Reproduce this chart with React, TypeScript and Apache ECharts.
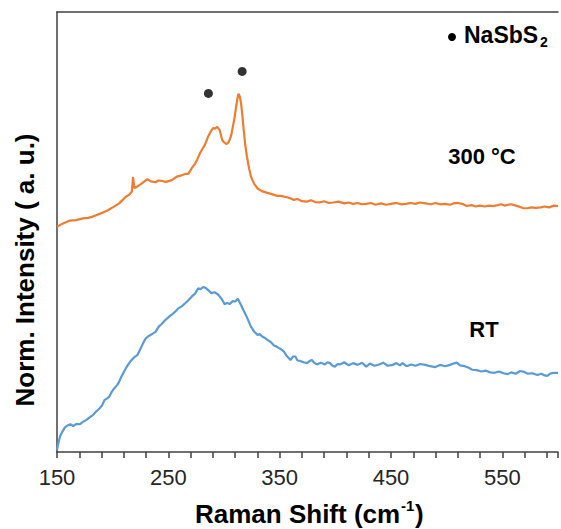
import React, { useEffect, useRef } from "react";
import * as echarts from "echarts";

// Raman shift (cm-1) and normalized intensity (a.u.)
const shift300: number[] = [
  150, 155, 161.5, 167, 173.3, 178, 182.2, 187, 191.1, 196, 200, 205.9, 211.8, 215, 217.2, 218.3, 219.5, 221.3,
  226.6, 231, 234.5, 238.5, 241, 244.3, 248, 253.2, 257.6, 261, 265.1, 268, 271, 274, 276, 278.4, 280.5, 282.8,
  285.8, 288, 290.2, 292, 294, 296.1, 298.4, 300, 302, 303.5, 305, 306.5, 307.9, 309.5, 310.9, 312, 313, 314.2,
  315.3, 316.5, 317.7, 319, 320.6, 322.5, 324.2, 327, 330.1, 334, 339, 343, 347.9, 350.8, 356.7, 360, 362.7,
  366, 370, 374.5, 378, 382, 386.3, 390, 394, 398.2, 403, 408, 412, 415.9, 420, 424, 427.7, 432, 436, 441,
  445.5, 450, 455, 459, 463.2, 468, 472, 476, 481, 486, 490, 494, 498.7, 503, 506, 510.5, 514, 518, 522.4,
  526, 530, 534.2, 538, 542, 546, 549, 552, 555, 557.9, 562, 566, 569, 572.6, 576, 580, 584.5, 588, 592,
  596.3, 600,
];
const int300: number[] = [
  51.2, 51.9, 52.6, 52.7, 53.1, 53.2, 53.5, 54.0, 54.4, 55.0, 55.6, 56.5, 58.0, 58.5, 59.2, 62.5, 60.0, 60.2,
  61.1, 62.0, 61.5, 61.3, 61.7, 61.6, 61.4, 61.8, 62.6, 62.8, 63.2, 63.2, 64.5, 65.5, 66.5, 67.9, 68.8, 69.8,
  71.7, 72.8, 73.6, 73.5, 73.9, 73.2, 70.9, 70.4, 70.0, 70.2, 70.9, 72.0, 73.9, 76.0, 78.5, 80.2, 81.4, 80.8,
  79.3, 76.5, 73.2, 70.0, 67.1, 64.5, 62.6, 61.0, 59.9, 59.3, 58.9, 58.6, 58.2, 58.2, 57.9, 57.6, 57.3,
  57.5, 57.0, 56.9, 57.2, 56.8, 56.75, 57.0, 56.6, 56.7, 56.9, 56.5, 56.7, 56.4, 56.6, 56.3, 56.4, 56.6, 56.2, 56.5,
  56.2, 56.4, 56.6, 56.3, 56.4, 56.6, 56.4, 56.7, 56.5, 56.3, 56.6, 56.3, 56.4, 56.2, 56.5, 56.6, 56.4, 55.9, 56.1,
  55.8, 56.0, 55.8, 56.0, 55.9, 56.1, 56.3, 56.0, 56.2, 56.3, 56.0, 55.7, 55.4, 55.4, 55.6, 55.5, 55.6, 55.8, 55.6,
  56.0, 55.9,
];

const shiftRT: number[] = [
  150, 151.2, 152.7, 155, 157.1, 160, 162, 164.5, 167.5, 170.4, 173, 176.4, 179, 182.2, 185.2, 188.2, 190.5,
  192.6, 195, 197, 199, 201.5, 204, 205.9, 208, 210.3, 212.5, 214.8, 217, 219.2, 222.1, 225.2, 227.5, 229.6,
  232, 234, 236, 238.5, 241.4, 244, 247.3, 250, 253, 256.2, 259.1, 262, 265.1, 268, 270.9, 274, 276.9, 279,
  281.3, 283.5, 285.8, 288.7, 291.5, 294.6, 297.6, 300.6, 303, 305, 307.9, 310, 312.4, 315.3, 317.5, 319.7,
  322, 324.2, 327, 330.1, 332, 334.6, 337, 339, 342, 344.9, 347, 349.4, 351.5, 353.8, 356.5, 359.7, 362,
  364.1, 366, 368.5, 371.5, 374.5, 376.5, 378.9, 381, 383.4, 387, 390.7, 393, 395.2, 397.5, 399.6, 402, 404,
  408, 412, 415.9, 420, 424, 427.7, 431, 435, 439.5, 443, 447, 451.4, 455, 458, 460.3, 464, 468, 472.1, 476,
  481, 485, 489.8, 494, 498.7, 503, 506, 509.1, 512, 516, 519.4, 523, 527, 531.3, 535, 539, 543.1, 547, 551,
  554.9, 558, 562, 566, 569.7, 573, 577, 581.5, 585, 588, 590.4, 593, 596.3, 600,
];
const intRT: number[] = [
  0.5, 2.0, 3.5, 4.7, 5.6, 6.1, 6.3, 5.9, 6.4, 6.3, 6.8, 7.3, 7.8, 8.4, 9.2, 9.9, 10.6,
  11.8, 12.2, 12.6, 13.6, 14.5, 15.2, 16.0, 17.2, 18.3, 19.3, 20.2, 20.9, 21.5, 22.0, 23.6, 24.8, 25.8,
  26.3, 26.6, 26.9, 27.3, 28.5, 29.1, 30.0, 30.6, 31.2, 31.9, 32.7, 33.1, 33.8, 34.5, 35.3, 36.0, 37.2, 37.0,
  37.5, 37.3, 36.8, 36.1, 36.3, 35.8, 34.9, 33.6, 33.9, 33.6, 34.3, 34.2, 34.8, 33.4, 32.2, 31.1,
  29.8, 28.5, 27.4, 26.6, 26.8, 26.2, 25.9, 25.5, 25.0, 24.2, 24.0, 23.6, 23.3, 22.8, 21.8, 20.9, 21.7,
  21.7, 20.8, 20.7, 20.4, 20.2, 20.6, 20.9, 20.3, 19.9, 20.3, 19.9, 20.4, 20.2, 19.6, 19.4, 20.0, 19.9,
  20.4, 19.7, 20.2, 19.8, 20.3, 19.4, 20.1, 19.6, 19.9, 20.3, 19.6, 19.8, 20.2, 19.7, 20.2, 19.5, 19.9, 19.6, 20.0,
  19.8, 19.5, 19.3, 19.8, 19.5, 19.8, 20.1, 20.3, 19.7, 19.5, 19.2, 18.7, 18.6, 18.3, 18.5, 18.1, 18.0, 18.3, 17.9,
  17.7, 18.1, 17.8, 18.4, 18.2, 17.8, 17.9, 17.5, 17.8, 17.4, 17.3, 17.8, 18.0, 18.0,
];

// peak markers (NaSbS2)
const peakShift: number[] = [286, 316.3];
const peakLevel: number[] = [81.5, 86.5];

const xTickLabels: number[] = [150, 250, 350, 450, 550];

const ORANGE = "#ED7D31";
const BLUE = "#5B9BD5";
const FONT = "Liberation Sans, Arial, sans-serif";

const boldText = (text: string, x: number, y: number, size: number, align = "left", extra: any = {}) => ({
  type: "text",
  x,
  y,
  ...extra,
  style: {
    text,
    fontSize: size,
    fontWeight: "bold",
    fontFamily: FONT,
    fill: "#000",
    textAlign: align,
    textVerticalAlign: "middle",
  },
});

export default function App() {
  const ref = useRef<HTMLDivElement>(null);
  useEffect(() => {
    if (!ref.current) return;
    const chart = echarts.init(ref.current, undefined, { renderer: "svg" });
    const d300 = shift300.map((x, i) => [x, int300[i]]);
    const dRT = shiftRT.map((x, i) => [x, intRT[i]]);
    const peaks = peakShift.map((x, i) => [x, peakLevel[i]]);
    chart.setOption({
      animation: false,
      backgroundColor: "#ffffff",
      grid: { left: 57, top: 12, right: 0, bottom: 77, containLabel: false },
      xAxis: [
        {
          type: "value",
          min: 150,
          max: 600,
          interval: 20,
          axisLine: { show: true, lineStyle: { color: "#404040", width: 1.5 } },
          axisTick: { show: true, length: 6, lineStyle: { color: "#404040", width: 1.5 } },
          axisLabel: {
            show: true,
            margin: 14,
            fontSize: 22,
            fontFamily: FONT,
            color: "#262626",
            formatter: (v: number) => (xTickLabels.indexOf(v) >= 0 ? String(v) : ""),
          },
          splitLine: { show: false },
        },
        {
          type: "value",
          position: "top",
          min: 150,
          max: 600,
          axisLine: { show: true, onZero: false, lineStyle: { color: "#404040", width: 1.5 } },
          axisTick: { show: false },
          axisLabel: { show: false },
          splitLine: { show: false },
        },
      ],
      yAxis: {
        type: "value",
        min: 0,
        max: 100,
        axisLine: { show: true, lineStyle: { color: "#404040", width: 1.5 } },
        axisTick: { show: false },
        axisLabel: { show: false },
        splitLine: { show: false },
      },
      series: [
        {
          type: "line",
          data: d300,
          showSymbol: false,
          lineStyle: { color: ORANGE, width: 2.2 },
          itemStyle: { color: ORANGE },
        },
        {
          type: "line",
          data: dRT,
          showSymbol: false,
          lineStyle: { color: BLUE, width: 2.2 },
          itemStyle: { color: BLUE },
        },
        {
          type: "scatter",
          data: peaks,
          symbol: "circle",
          symbolSize: 9,
          itemStyle: { color: "#000000" },
        },
      ],
      graphic: [
        { type: "circle", shape: { cx: 452, cy: 37, r: 4 }, style: { fill: "#000" } },
        boldText("NaSbS", 464, 35, 23),
        boldText("2", 540, 42, 14),
        boldText("300 °C", 482, 156, 22, "center"),
        boldText("RT", 484, 329, 22, "center"),
        boldText("Norm. Intensity ( a. u.)", 25, 270, 26, "center", { rotation: Math.PI / 2 }),
        boldText("Raman Shift (cm", 195, 514, 26),
        boldText("-1", 401, 505, 15),
        boldText(")", 415, 514, 26),
      ],
    });
    return () => chart.dispose();
  }, []);
  return <div ref={ref} style={{ position: "fixed", left: 0, top: 0, width: 561, height: 529 }} />;
}
